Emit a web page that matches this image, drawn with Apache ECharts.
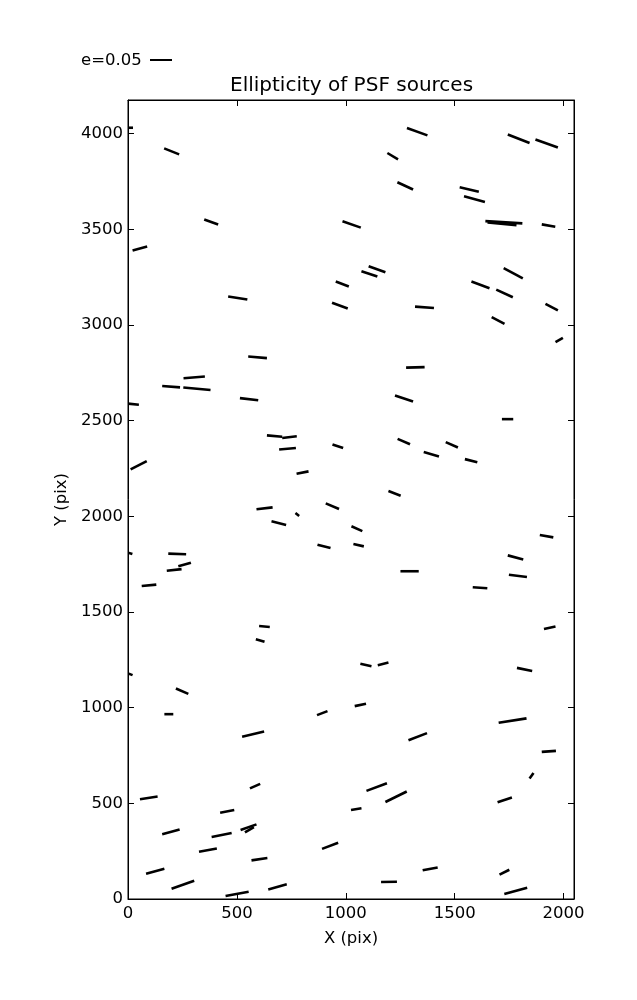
<!DOCTYPE html>
<html>
<head>
<meta charset="utf-8">
<script src="https://cdn.jsdelivr.net/npm/echarts@6/dist/echarts.min.js"></script>
<style>html,body{margin:0;padding:0;background:#fff;}#c{width:637px;height:1000px;}</style>
</head>
<body>
<div id="c"></div>
<script>
// Segment endpoints (data units: CCD pixels)
var x1 = [0,166,350,985,21,954,460,1281,1744,1871,1191,1237,1523,1543,1641,1651,1900,1105,1072,1725,1577,1691,937,552,255,157,254,514,0,638,708,694,939,12,774,1917,1318,1670,1963,1277,1226,1717,1238,1459,1358,1547,1196,590,769,908,659,870,0,185,231,178,63,602,587,0,220,1026,1035,1891,1744,1251,1749,1583,1910,1067,1147,1786,167,868,524,560,55,423,157,384,517,537,326,567,83,200,448,644,891,1041,1702,1288,1900,1844,1095,1182,1024,1697,1353,1162,1706,1728];
var y1 = [4031,3923,3551,3542,3389,3227,3149,4030,3996,3970,3899,3746,3720,3673,3543,3536,3526,3307,3281,3297,3227,3185,3116,2835,2722,2681,2673,2618,2589,2423,2409,2349,2376,2245,2223,3110,3096,3041,2910,2777,2632,2508,2405,2388,2336,2299,2132,2037,2017,2068,1974,1852,1810,1805,1739,1716,1636,1427,1358,1179,1100,1948,1855,1902,1796,1713,1695,1629,1411,1230,1222,1208,966,961,848,578,521,451,339,324,361,348,247,202,132,54,16,50,262,1008,921,830,769,630,565,507,465,506,150,89,127,26];
var x2 = [23,235,414,1069,88,1014,548,1375,1844,1974,1240,1309,1611,1639,1811,1784,1962,1182,1145,1813,1660,1767,1009,638,353,239,379,598,50,708,775,771,988,86,829,1974,1405,1729,1997,1362,1309,1769,1295,1515,1428,1604,1252,664,786,969,726,930,20,267,289,246,130,651,627,21,277,1076,1083,1953,1815,1335,1832,1650,1963,1118,1196,1856,208,916,625,607,136,488,237,476,590,578,408,640,167,304,554,729,965,1093,1830,1373,1965,1862,1189,1280,1072,1763,1422,1235,1751,1833];
var y2 = [4031,3892,3525,3509,3410,3201,3133,3991,3951,3928,3866,3708,3697,3643,3531,3521,3514,3276,3253,3244,3192,3145,3086,2827,2731,2674,2660,2607,2583,2416,2419,2357,2357,2289,2235,3076,3089,3006,2933,2780,2600,2508,2377,2360,2313,2283,2108,2047,2002,2038,1955,1834,1803,1802,1758,1724,1643,1422,1344,1170,1072,1923,1843,1890,1775,1713,1683,1624,1424,1217,1236,1192,966,982,875,602,536,465,363,345,390,376,264,214,158,95,38,77,294,1020,944,867,774,659,605,562,474,531,165,90,153,59];

var xMin = 0, xMax = 2048, yMin = 0, yMax = 4176;
var xTicks = 500, yTicks = 500;
var legendLabel = 'e=0.05';

var segs = [];
for (var i = 0; i < x1.length; i++) segs.push([x1[i], y1[i], x2[i], y2[i]]);

var FONT = 'DejaVu Sans';
var FS = 16.5;
var chart = echarts.init(document.getElementById('c'), null, {renderer: 'canvas'});

function plain(v) { return String(v); }

function axisCommon(extra) {
  return Object.assign({
    type: 'value',
    splitLine: {show: false},
    axisLine: {show: true, onZero: false, lineStyle: {color: '#000', width: 1}},
    axisTick: {show: true, inside: true, length: 6, lineStyle: {color: '#000', width: 1}},
    axisLabel: {show: false}
  }, extra);
}

chart.setOption({
  backgroundColor: '#fff',
  animation: false,
  grid: {left: 128, right: 63, top: 100, bottom: 101, show: true, borderColor: '#000', borderWidth: 1, backgroundColor: 'transparent'},
  xAxis: [
    axisCommon({position: 'bottom', min: xMin, max: xMax, interval: xTicks,
      name: 'X (pix)', nameLocation: 'middle', nameGap: 31,
      nameTextStyle: {color: '#000', fontSize: FS, fontFamily: FONT},
      axisLabel: {show: true, color: '#000', fontSize: FS, fontFamily: FONT, margin: 6, showMaxLabel: false, formatter: plain}}),
    axisCommon({position: 'top', min: xMin, max: xMax, interval: xTicks})
  ],
  yAxis: [
    axisCommon({position: 'left', min: yMin, max: yMax, interval: yTicks,
      name: 'Y (pix)', nameLocation: 'middle', nameGap: 54, nameRotate: 90,
      nameTextStyle: {color: '#000', fontSize: FS, fontFamily: FONT},
      axisLabel: {show: true, color: '#000', fontSize: FS, fontFamily: FONT, margin: 5, showMaxLabel: false, formatter: plain}}),
    axisCommon({position: 'right', min: yMin, max: yMax, interval: yTicks})
  ],
  graphic: [
    {type: 'text', left: 230, top: 76, style: {text: 'Ellipticity of PSF sources', fill: '#000', fontSize: 20, fontFamily: FONT}},
    {type: 'text', left: 81, top: 52, style: {text: legendLabel, fill: '#000', fontSize: FS, fontFamily: FONT}},
    {type: 'line', shape: {x1: 150, y1: 60, x2: 172, y2: 60}, style: {stroke: '#000', lineWidth: 2}}
  ],
  series: [{
    type: 'custom',
    coordinateSystem: 'cartesian2d',
    xAxisIndex: 0, yAxisIndex: 0,
    clip: true,
    data: segs,
    encode: {x: [0, 2], y: [1, 3]},
    renderItem: function (params, api) {
      var a = api.coord([api.value(0), api.value(1)]);
      var b = api.coord([api.value(2), api.value(3)]);
      return {type: 'line', shape: {x1: a[0], y1: a[1], x2: b[0], y2: b[1]},
        style: {stroke: '#000', lineWidth: 2.6, lineCap: 'butt'}};
    }
  }]
});
</script>
</body>
</html>
